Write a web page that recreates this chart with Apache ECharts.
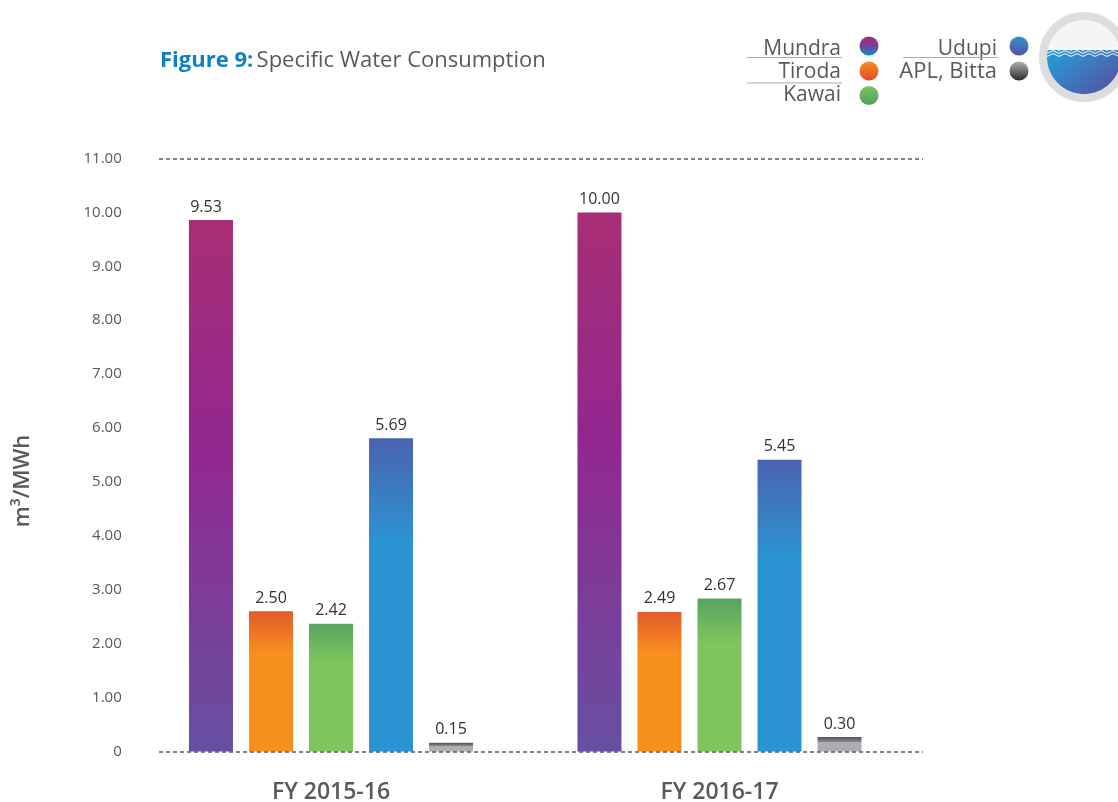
<!DOCTYPE html>
<html><head><meta charset="utf-8">
<style>html,body{margin:0;padding:0;background:#fff}#c{width:1118px;height:802px}</style>
<script src="https://cdn.jsdelivr.net/npm/echarts@6/dist/echarts.min.js"></script>
</head><body><div id="c"></div>
<script>
const categories = ['FY 2015-16', 'FY 2016-17'];
// Bar heights as drawn in the picture (the printed labels do not always agree with them)
const mundra = [9.86, 10.00];
const tiroda = [2.60, 2.59];
const kawai = [2.37, 2.84];
const udupi = [5.81, 5.41];
const aplBitta = [0.16, 0.27];
// Values as printed above the bars
const mundraLabels = ['9.53', '10.00'];
const tirodaLabels = ['2.50', '2.49'];
const kawaiLabels = ['2.42', '2.67'];
const udupiLabels = ['5.69', '5.45'];
const aplBittaLabels = ['0.15', '0.30'];
const yTicks = ['0', '1.00', '2.00', '3.00', '4.00', '5.00', '6.00', '7.00', '8.00', '9.00', '10.00', '11.00'];

const FONT = '"Open Sans", sans-serif';
const grad = (stops, y2 = 1) => new echarts.graphic.LinearGradient(0, 0, 0, y2, stops.map(([offset, color]) => ({ offset, color })));

const fills = {
  Mundra: grad([[0, '#A72E73'], [0.42, '#92278F'], [1, '#6650A1']]),
  Tiroda: grad([[0, '#E25A2D'], [0.3, '#F7901E'], [1, '#F7901E']]),
  Kawai: grad([[0, '#58A45F'], [0.3, '#7EC55E'], [1, '#7EC55E']]),
  Udupi: grad([[0, '#4A64AF'], [0.35, '#2B95D3'], [1, '#2B95D3']]),
  'APL, Bitta': grad([[0, '#55565A'], [0.32, '#808285'], [0.36, '#ADAEB1'], [1, '#ADAEB1']])
};

function barSeries(name, values, labels) {
  return {
    name, type: 'bar', xAxisIndex: 1, yAxisIndex: 1, data: values,
    barWidth: 44, barGap: '36.4%', z: 2,
    itemStyle: { color: fills[name] },
    label: {
      show: true, position: 'top', distance: 5, fontFamily: FONT, fontSize: 16, color: '#333',
      formatter: p => labels[p.dataIndex]
    }
  };
}

function text(x, y, t, align, style) {
  return { type: 'text', x, y, style: Object.assign({ text: t, align, verticalAlign: 'middle', fontFamily: FONT, fontSize: 21, fill: '#58595B' }, style || {}) };
}
function rule(x1, x2, y) {
  return { type: 'line', shape: { x1, y1: y, x2, y2: y }, style: { stroke: '#A7A9AC', lineWidth: 1 } };
}
function dot(cx, cy, stops) {
  return { type: 'circle', shape: { cx, cy, r: 9.5 }, style: { fill: grad(stops) } };
}
// Logo decoration: water level arc and white ripples
function waterOutline(cx, cy, r, level) {
  const a0 = Math.asin((level - cy) / r);
  const pts = [];
  for (let i = 0; i <= 48; i++) {
    const a = a0 + (Math.PI - 2 * a0) * i / 48;
    pts.push([cx + r * Math.cos(a), cy + r * Math.sin(a)]);
  }
  return pts;
}
function wave(y) {
  const pts = [];
  for (let x = 1047; x <= 1118; x++) pts.push([x, y + 1.2 * Math.sin(x * Math.PI / 6)]);
  return { type: 'polyline', shape: { points: pts }, style: { fill: 'none', stroke: '#fff', lineWidth: 1 } };
}

const chart = echarts.init(document.getElementById('c'), null, { renderer: 'canvas' });
const series = [
  barSeries('Mundra', mundra, mundraLabels),
  barSeries('Tiroda', tiroda, tirodaLabels),
  barSeries('Kawai', kawai, kawaiLabels),
  barSeries('Udupi', udupi, udupiLabels),
  barSeries('APL, Bitta', aplBitta, aplBittaLabels)
];
// The first printed label sits slightly left of its bar in the reference
series[0].data = mundra.map((value, i) => (i === 0 ? { value, label: { offset: [-5, 0] } } : value));

chart.setOption({
  animation: false,
  backgroundColor: '#fff',
  grid: [
    { left: 159, width: 764, top: 158.5, height: 593, outerBoundsMode: 'none' },
    { left: 136.75, width: 777, top: 158.5, height: 593, outerBoundsMode: 'none' }
  ],
  xAxis: [
    { type: 'category', gridIndex: 0, data: categories, show: false },
    {
      type: 'category', gridIndex: 1, data: categories,
      axisLine: { show: false }, axisTick: { show: false },
      axisLabel: { margin: 29, fontFamily: FONT, fontSize: 23, fontWeight: 600, color: '#58595B' }
    }
  ],
  yAxis: [
    {
      type: 'value', gridIndex: 0, min: 0, max: 11, interval: 11, z: 5,
      axisLine: { show: false }, axisTick: { show: false }, axisLabel: { show: false },
      splitLine: { show: true, lineStyle: { color: '#58595B', width: 1.6, type: [4, 3] } }
    },
    {
      type: 'value', gridIndex: 1, min: 0, max: 11, interval: 1,
      name: 'm³/MWh', nameLocation: 'middle', nameGap: 103, nameRotate: 90,
      nameTextStyle: { fontFamily: FONT, fontSize: 22, fontWeight: 600, color: '#58595B', padding: [0, 52, 0, 0] },
      axisLine: { show: false }, axisTick: { show: false }, splitLine: { show: false },
      axisLabel: { margin: 15, fontFamily: FONT, fontSize: 15, color: '#58595B', formatter: (v) => yTicks[Math.round(v)] }
    }
  ],
  series,
  graphic: { elements: [
    {
      type: 'text', x: 160, y: 61,
      style: {
        text: '{a|Figure 9:} {b|Specific Water Consumption}', verticalAlign: 'middle',
        rich: {
          a: { fontFamily: FONT, fontSize: 22, fontWeight: 700, fill: '#0F80C3' },
          b: { fontFamily: FONT, fontSize: 22, fill: '#58595B' }
        }
      }
    },
    text(841, 49, 'Mundra', 'right'), text(841, 72, 'Tiroda', 'right'), text(841, 95, 'Kawai', 'right'),
    text(997, 49, 'Udupi', 'right'), text(997, 72, 'APL, Bitta', 'right', { fontSize: 22 }),
    rule(747, 842, 57.5), rule(747, 842, 83), rule(903, 998, 57.5),
    dot(869, 46, [[0, '#A72E73'], [0.45, '#7A3D9A'], [1, '#0F8FC0']]),
    dot(869, 71, [[0, '#F7901E'], [1, '#E2472F']]),
    dot(869, 95.5, [[0, '#7EC55E'], [1, '#4E9E5F']]),
    dot(1019, 46, [[0, '#2B95D3'], [1, '#5B4FA5']]),
    dot(1019, 71, [[0, '#AEB0B3'], [1, '#2B2B2D']]),
    { type: 'circle', shape: { cx: 1084, cy: 57, r: 41 }, style: { fill: '#F5F5F5', stroke: '#DCDDDF', lineWidth: 8 } },
    {
      type: 'polygon', shape: { points: waterOutline(1084, 57, 37, 50) },
      style: { fill: new echarts.graphic.LinearGradient(0.25, 0, 0.7, 1, [{ offset: 0, color: '#2B95D3' }, { offset: 1, color: '#5159A8' }]) }
    },
    wave(49), wave(52), wave(55)
  ] }
});
</script></body></html>
